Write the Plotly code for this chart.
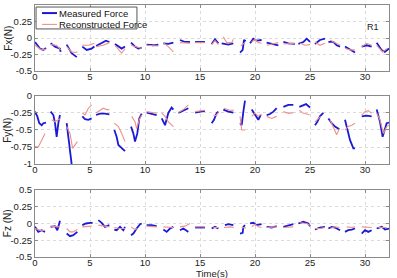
import plotly.graph_objects as go
from plotly.subplots import make_subplots

# Each list holds segments; each segment is a list of (time_s, force_N) points.
FX_MEASURED = [
    [(0, -0.06), (0.45, -0.16), (0.76, -0.18), (1.0, -0.15)],
    [(1.42, -0.08), (1.82, -0.13), (2.27, -0.16), (2.33, -0.21)],
    [(2.88, -0.1), (3.33, -0.23), (3.8, -0.29)],
    [(4.3, -0.13), (4.7, -0.18), (5.15, -0.16), (5.4, -0.13)],
    [(5.55, -0.12), (6.06, -0.08), (6.45, -0.04), (6.76, -0.06)],
    [(7.27, -0.09), (7.58, -0.13), (7.88, -0.16), (8.18, -0.13)],
    [(8.73, -0.07), (9.09, -0.13), (9.39, -0.16), (9.7, -0.15)],
    [(10.15, -0.1), (10.76, -0.11), (11.21, -0.1)],
    [(11.67, -0.08), (12.12, -0.09), (12.58, -0.07)],
    [(13.18, -0.03), (13.64, -0.06), (14.09, -0.06)],
    [(14.55, -0.06), (15.45, -0.06)],
    [(16.06, -0.09), (16.36, -0.02), (16.67, -0.08)],
    [(16.97, -0.08), (17.58, -0.1), (18.03, -0.08)],
    [(18.64, -0.22), (18.88, -0.18), (19.0, -0.03), (19.15, -0.05)],
    [(19.55, -0.08), (19.85, -0.01), (20.15, -0.04), (20.6, -0.03)],
    [(21.06, -0.07), (21.6, -0.09), (22.12, -0.11)],
    [(22.58, -0.06), (23.03, -0.08), (23.64, -0.09)],
    [(23.94, -0.09), (24.4, -0.06), (24.7, -0.01), (25.0, -0.06)],
    [(25.45, -0.09), (25.9, -0.03), (26.36, -0.01)],
    [(26.67, -0.06), (27.12, -0.06), (27.42, -0.11), (27.73, -0.13)],
    [(28.18, -0.13), (28.64, -0.17), (29.09, -0.22)],
    [(29.7, -0.13), (30.15, -0.11), (30.6, -0.13)],
    [(31.06, -0.07), (31.5, -0.18), (31.8, -0.21), (32.18, -0.16)],
]
FX_RECON = [
    [(0, -0.11), (0.6, -0.18), (1.0, -0.17)],
    [(1.42, -0.1), (1.97, -0.11), (2.33, -0.18)],
    [(2.88, -0.13), (3.33, -0.21), (3.64, -0.22), (3.85, -0.21)],
    [(4.3, -0.11), (4.9, -0.11), (5.4, -0.08)],
    [(5.55, -0.13), (6.2, -0.11), (6.76, -0.07)],
    [(7.27, -0.11), (7.88, -0.23), (8.18, -0.16)],
    [(8.73, -0.11), (9.24, -0.14), (9.7, -0.16)],
    [(10.15, -0.11), (11.21, -0.12)],
    [(11.67, -0.07), (12.12, -0.13), (12.58, -0.21)],
    [(13.18, -0.07), (13.79, -0.07), (14.09, -0.08)],
    [(14.55, -0.07), (15.45, -0.07)],
    [(16.06, -0.1), (16.36, -0.04), (16.67, -0.1)],
    [(17.12, 0.02), (17.42, -0.07), (17.88, -0.07), (18.03, -0.02)],
    [(18.7, -0.12), (19.0, -0.08)],
    [(19.7, -0.06), (20.0, -0.02), (20.3, -0.07), (20.6, -0.08)],
    [(21.06, -0.11), (21.6, -0.09), (22.12, -0.07)],
    [(22.58, -0.09), (23.64, -0.08)],
    [(24.1, -0.08), (24.55, -0.11), (25.0, -0.1)],
    [(25.45, -0.06), (25.9, -0.11), (26.36, -0.08)],
    [(26.82, -0.03), (27.42, -0.08), (27.73, -0.11)],
    [(28.18, -0.16), (28.64, -0.18), (29.09, -0.18)],
    [(29.7, -0.13), (30.15, -0.08), (30.6, -0.11)],
    [(31.06, -0.11), (31.6, -0.21), (31.97, -0.16)],
]

FY_MEASURED = [
    [(0, -0.23), (0.21, -0.3), (0.39, -0.4), (0.61, -0.43), (0.76, -0.4), (1.0, -0.39)],
    [(1.42, -0.23), (1.67, -0.28), (1.82, -0.4), (1.97, -0.6), (2.12, -0.4), (2.27, -0.28)],
    [(2.88, -0.4), (3.03, -0.6), (3.18, -0.79), (3.33, -1.0)],
    [(4.3, -0.3), (4.55, -0.34), (4.85, -0.35), (5.15, -0.33)],
    [(5.55, -0.28), (5.9, -0.26), (6.36, -0.26), (6.76, -0.27)],
    [(7.21, -0.5), (7.42, -0.6), (7.58, -0.72), (7.88, -0.77), (8.18, -0.81)],
    [(8.73, -0.45), (8.94, -0.55), (9.09, -0.67), (9.3, -0.55), (9.48, -0.33), (9.7, -0.26)],
    [(10.15, -0.245), (10.6, -0.26), (11.06, -0.28)],
    [(11.52, -0.33), (11.82, -0.43), (12.12, -0.25), (12.42, -0.17), (12.58, -0.2)],
    [(13.03, -0.25), (13.33, -0.23), (13.64, -0.2), (13.94, -0.18)],
    [(14.55, -0.245), (15.45, -0.22)],
    [(16.06, -0.4), (16.27, -0.35), (16.52, -0.25), (16.67, -0.23)],
    [(17.12, -0.2), (17.58, -0.23), (18.03, -0.245)],
    [(18.64, -0.4), (18.79, -0.43), (18.94, -0.23), (19.09, -0.07)],
    [(19.7, -0.2), (20.0, -0.28), (20.3, -0.35), (20.52, -0.28)],
    [(21.06, -0.28), (21.36, -0.265), (21.67, -0.23), (21.97, -0.18)],
    [(22.58, -0.16), (23.03, -0.13), (23.48, -0.13)],
    [(24.03, -0.16), (24.39, -0.13), (24.64, -0.12), (25.0, -0.17)],
    [(25.45, -0.43), (25.67, -0.38), (25.9, -0.3), (26.21, -0.25)],
    [(26.67, -0.33), (26.97, -0.4), (27.27, -0.45), (27.67, -0.49)],
    [(28.18, -0.35), (28.39, -0.5), (28.64, -0.65), (28.94, -0.77), (29.09, -0.77)],
    [(29.7, -0.3), (30.15, -0.29), (30.6, -0.3)],
    [(31.06, -0.2), (31.36, -0.38), (31.6, -0.6), (31.82, -0.5), (31.97, -0.4), (32.18, -0.39)],
]
FY_RECON = [
    [(0, -0.745), (0.3, -0.75), (0.61, -0.65), (0.91, -0.55)],
    [(1.52, -0.35), (1.82, -0.38), (2.12, -0.35), (2.33, -0.33)],
    [(2.88, -0.45), (3.18, -0.55), (3.42, -0.77), (3.64, -0.72), (3.85, -0.67)],
    [(4.3, -0.25), (4.55, -0.28), (4.85, -0.18), (5.15, -0.13)],
    [(5.55, -0.25), (5.9, -0.21), (6.21, -0.18), (6.52, -0.2), (6.76, -0.2)],
    [(7.21, -0.4), (7.58, -0.45), (7.88, -0.55), (8.18, -0.67)],
    [(8.79, -0.3), (9.09, -0.38), (9.24, -0.48), (9.48, -0.35), (9.7, -0.28)],
    [(10.15, -0.23), (10.6, -0.245), (11.06, -0.255)],
    [(11.52, -0.25), (11.82, -0.3), (12.12, -0.38), (12.42, -0.43), (12.58, -0.45)],
    [(13.03, -0.245), (13.48, -0.2), (13.94, -0.13)],
    [(14.55, -0.23), (15.45, -0.21)],
    [(16.21, -0.28), (16.45, -0.29), (16.67, -0.245)],
    [(17.18, -0.18), (17.67, -0.21), (18.09, -0.21)],
    [(18.64, -0.3), (18.79, -0.5), (19.09, -0.5)],
    [(19.7, -0.3), (20.0, -0.25), (20.3, -0.3), (20.6, -0.265)],
    [(21.06, -0.3), (21.52, -0.33), (21.97, -0.3)],
    [(22.58, -0.23), (23.03, -0.255), (23.48, -0.245)],
    [(24.03, -0.21), (24.39, -0.255), (24.7, -0.265), (24.94, -0.28)],
    [(25.45, -0.38), (25.76, -0.33), (25.97, -0.3)],
    [(26.82, -0.35), (27.12, -0.45), (27.42, -0.57), (27.67, -0.48)],
    [(28.18, -0.5), (28.48, -0.45), (28.79, -0.43), (29.09, -0.4)],
    [(29.7, -0.28), (30.0, -0.23), (30.3, -0.215), (30.6, -0.255)],
    [(31.06, -0.255), (31.36, -0.35), (31.67, -0.55), (31.97, -0.45), (32.18, -0.43)],
]

FZ_MEASURED = [
    [(0, -0.05), (0.3, -0.125), (0.61, -0.1), (0.91, -0.125)],
    [(1.42, -0.05), (1.82, -0.04), (2.03, -0.1), (2.12, -0.05), (2.27, 0.04)],
    [(2.88, -0.15), (3.18, -0.19), (3.48, -0.175), (3.85, -0.125)],
    [(4.3, -0.025), (4.64, 0.0), (5.0, 0.01), (5.24, 0.01)],
    [(5.76, 0.05), (6.06, 0.01), (6.36, -0.05), (6.76, -0.025)],
    [(7.21, -0.09), (7.42, -0.1), (7.73, -0.05), (8.03, -0.1), (8.18, -0.05)],
    [(8.73, -0.175), (8.94, -0.15), (9.24, -0.075), (9.55, -0.01), (9.7, 0.0)],
    [(10.15, -0.025), (10.6, -0.025), (11.06, -0.04)],
    [(11.67, -0.09), (11.97, -0.125), (12.27, -0.075), (12.58, -0.05)],
    [(13.18, -0.1), (13.48, -0.075), (13.79, -0.11), (13.94, -0.125)],
    [(14.55, -0.06), (15.45, -0.06)],
    [(16.06, -0.075), (16.36, -0.05), (16.67, -0.075)],
    [(17.27, -0.025), (17.58, -0.01), (18.03, -0.025)],
    [(18.64, -0.15), (18.88, -0.14), (18.94, -0.05), (19.09, -0.025)],
    [(19.55, 0.0), (19.85, 0.01), (20.15, -0.025), (20.6, -0.01)],
    [(21.06, -0.05), (21.52, -0.06), (21.97, -0.04)],
    [(22.58, -0.05), (23.03, -0.025), (23.48, -0.01)],
    [(23.94, 0.0), (24.39, 0.025), (24.85, 0.0), (25.0, -0.04)],
    [(25.45, -0.09), (25.9, -0.06), (26.36, -0.05)],
    [(26.67, -0.075), (26.97, -0.05), (27.27, -0.06), (27.73, -0.1)],
    [(28.18, -0.125), (28.48, -0.1), (28.79, -0.09), (29.09, -0.075)],
    [(29.7, -0.15), (30.0, -0.1), (30.3, -0.125), (30.6, -0.1)],
    [(31.06, -0.075), (31.52, -0.05), (31.82, -0.09), (32.18, -0.075)],
]
FZ_RECON = [
    [(0, -0.075), (0.61, -0.11), (0.91, -0.1)],
    [(1.42, -0.04), (1.82, -0.05), (2.27, -0.05)],
    [(2.88, -0.075), (3.18, -0.125), (3.48, -0.125), (3.85, -0.09)],
    [(4.3, -0.05), (4.7, -0.04), (5.15, -0.04)],
    [(5.76, -0.025), (6.21, -0.04), (6.76, -0.05)],
    [(7.21, -0.06), (7.73, -0.075), (8.18, -0.075)],
    [(8.73, -0.05), (9.09, -0.09), (9.3, -0.075)],
    [(10.15, -0.04), (11.06, -0.05)],
    [(11.67, -0.05), (12.12, -0.05), (12.58, -0.06)],
    [(13.18, -0.05), (13.64, -0.04), (14.09, 0.0)],
    [(14.55, -0.05), (15.45, -0.05)],
    [(16.21, -0.06), (16.67, -0.06)],
    [(17.18, -0.06), (17.73, -0.05), (18.09, -0.06)],
    [(18.79, -0.06), (19.18, -0.065)],
    [(19.7, -0.05), (20.0, -0.01), (20.3, -0.05), (20.6, -0.06)],
    [(21.06, -0.06), (21.97, -0.05)],
    [(22.58, -0.06), (23.48, -0.05)],
    [(24.09, 0.01), (24.7, 0.0), (25.0, -0.025)],
    [(25.45, -0.075), (25.9, -0.075), (26.36, -0.06)],
    [(26.82, -0.075), (27.27, -0.05), (27.67, -0.06)],
    [(28.33, -0.05), (28.79, -0.06), (29.09, -0.05)],
    [(29.7, -0.05), (30.15, -0.06), (30.6, -0.06)],
    [(31.21, -0.06), (31.97, -0.06)],
]

Y_TITLES = ["Fx(N)", "Fy(N)", "Fz (N)"]
Y_TICKS = [[0.5, 0.25, 0, -0.25, -0.5], [0, -0.25, -0.5, -0.75, -1], [0.5, 0.25, 0, -0.25, -0.5]]
Y_TICKTEXT = [["0.5", "0.25", "0", "-0.25", "-0.5"], ["0", "-0.25", "-0.5", "-0.75", "-1"],
              ["0.5", "0.25", "0", "-0.25", "-0.5"]]
Y_RANGES = [[-0.5, 0.5], [-1, 0], [-0.5, 0.5]]
X_TICKS = [0, 5, 10, 15, 20, 25, 30]
X_RANGE = [0, 32.18]
LEGEND_LABELS = ["Measured Force", "Reconstructed Force"]

BLUE = "#1a1ad6"
PINK = "#f0908c"
FONT = "Liberation Sans, Arial, sans-serif"


def flatten(segments):
    xs, ys = [], []
    for seg in segments:
        for t, v in seg:
            xs.append(t)
            ys.append(v)
        xs.append(None)
        ys.append(None)
    return xs, ys


fig = make_subplots(rows=3, cols=1, vertical_spacing=0.0)
data = [(FX_MEASURED, FX_RECON), (FY_MEASURED, FY_RECON), (FZ_MEASURED, FZ_RECON)]
for i, (meas, rec) in enumerate(data):
    rx, ry = flatten(rec)
    mx, my = flatten(meas)
    fig.add_trace(go.Scatter(x=mx, y=my, mode="lines", name=LEGEND_LABELS[0],
                             line=dict(color=BLUE, width=1.8), showlegend=False,
                             hoverinfo="skip"), row=i + 1, col=1)
    fig.add_trace(go.Scatter(x=rx, y=ry, mode="lines", name=LEGEND_LABELS[1],
                             line=dict(color=PINK, width=1.1), showlegend=False,
                             hoverinfo="skip"), row=i + 1, col=1)

domains = [[0.738, 1.0], [0.369, 0.639], [0.0, 0.266]]
title_y = [0.869, 0.504, 0.133]
axis_font = dict(family=FONT, size=10, color="#222")
tick_font = dict(family=FONT, size=9.5, color="#222")
GRID = "#dadada"
for i in range(3):
    fig.update_xaxes(row=i + 1, col=1, range=X_RANGE, tickvals=X_TICKS, automargin=False,
                     showgrid=True, gridcolor=GRID, griddash="dot", gridwidth=1,
                     zeroline=False, showline=True, linecolor="#8a8a8a", linewidth=1,
                     mirror="ticks", ticks="inside", ticklen=3, tickcolor="#8a8a8a",
                     tickfont=tick_font, ticklabelstandoff=-3)
    fig.update_yaxes(row=i + 1, col=1, range=Y_RANGES[i], tickvals=Y_TICKS[i],
                     ticktext=Y_TICKTEXT[i], domain=domains[i], automargin=False,
                     showgrid=True, gridcolor=GRID, griddash="dot", gridwidth=1,
                     zeroline=False, showline=True, linecolor="#8a8a8a", linewidth=1,
                     mirror="ticks", ticks="inside", ticklen=3, tickcolor="#8a8a8a",
                     tickfont=tick_font)
    fig.add_annotation(x=-0.077, y=title_y[i], xref="paper", yref="paper", text=Y_TITLES[i],
                       textangle=-90, showarrow=False, xanchor="center", yanchor="middle",
                       font=axis_font)

# x-axis title
fig.add_annotation(x=0.5, y=-0.0655, xref="paper", yref="paper", text="Time(s)",
                   showarrow=False, yanchor="middle",
                   font=dict(family=FONT, size=9.5, color="#222"))

fig.add_annotation(x=30.7, y=0.17, xref="x", yref="y", text="R1", showarrow=False,
                   font=dict(family=FONT, size=9, color="#222"))

# manual legend box
fig.add_shape(type="rect", xref="paper", yref="paper", x0=0.003, x1=0.288, y0=0.905, y1=0.992,
              line=dict(color="#555", width=1), fillcolor="white", layer="above")
fig.add_shape(type="line", xref="paper", yref="paper", x0=0.0198, x1=0.0621, y0=0.968, y1=0.968,
              line=dict(color=BLUE, width=2), layer="above")
fig.add_shape(type="line", xref="paper", yref="paper", x0=0.0198, x1=0.0621, y0=0.923, y1=0.923,
              line=dict(color=PINK, width=1.1), layer="above")
fig.add_annotation(x=0.062, y=0.966, xref="paper", yref="paper", text=LEGEND_LABELS[0],
                   showarrow=False, xanchor="left", yanchor="middle",
                   font=dict(family=FONT, size=9.5, color="#111"))
fig.add_annotation(x=0.062, y=0.921, xref="paper", yref="paper", text=LEGEND_LABELS[1],
                   showarrow=False, xanchor="left", yanchor="middle",
                   font=dict(family=FONT, size=9.5, color="#111"))

fig.update_layout(
    width=397, height=278,
    margin=dict(l=35, r=8, t=5, b=21),
    paper_bgcolor="white", plot_bgcolor="white",
    showlegend=False,
)

fig.write_html("out.html", config={"displayModeBar": False},
               post_script="document.body.style.margin='0';document.body.style.overflow='hidden';")
